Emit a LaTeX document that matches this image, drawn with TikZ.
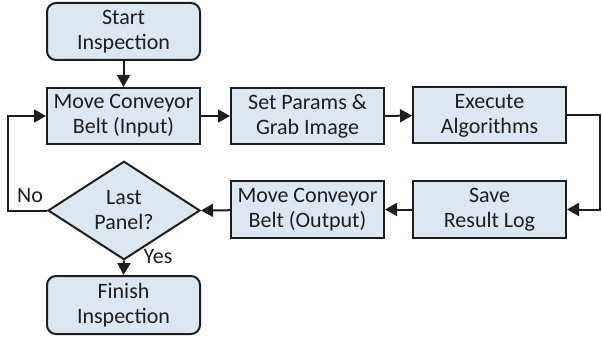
\documentclass[tikz,border=0pt]{standalone}
\usepackage{fontspec}
\setmainfont{Carlito}
\usetikzlibrary{shapes.geometric,arrows.meta}
\definecolor{boxfill}{RGB}{221,231,242}
\definecolor{ink}{RGB}{30,30,30}
\tikzset{
  procbox/.style={draw=ink,fill=boxfill,line width=2pt,minimum width=153pt,minimum height=56pt,
    align=center,inner sep=0pt,font=\fontsize{22}{25}\selectfont,text=ink},
  termbox/.style={procbox,rounded corners=9pt},
  decbox/.style={draw=ink,fill=boxfill,line width=2pt,diamond,minimum width=152pt,minimum height=75pt,
    align=center,inner sep=0pt,font=\fontsize{22}{25}\selectfont,text=ink},
  conn/.style={draw=ink,line width=2pt,-{Triangle[length=12pt,width=13pt]}},
  lbl/.style={font=\fontsize{22}{25}\selectfont,text=ink,inner sep=0pt}
}
\begin{document}
\begin{tikzpicture}[x=1pt,y=-1pt]
\useasboundingbox (0,0) rectangle (602,339);
\node[termbox,minimum height=57pt] (start) at (123.5,31.5) {Start\\Inspection};
\node[procbox] (in) at (123.5,116) {Move Conveyor\\Belt (Input)};
\node[procbox] (par) at (307.5,116) {Set Params \&\\Grab Image};
\node[procbox] (exe) at (489.5,115.5) {Execute\\Algorithms};
\node[procbox] (save) at (489.5,209.5) {Save\\Result Log};
\node[procbox] (out) at (307.5,209.5) {Move Conveyor\\Belt (Output)};
\node[decbox] (dec) at (124,210.5) {Last\\Panel?};
\node[termbox,minimum height=58pt] (fin) at (123.5,305) {Finish\\Inspection};
\coordinate (r) at (600,0);
\coordinate (l) at (8,0);
\draw[conn] (start) -- (in);
\draw[conn] (in) -- (par);
\draw[conn] (par) -- (exe);
\draw[conn] (exe.east) -- (exe.east -| r) -- (save.east -| r) -- (save.east);
\draw[conn] (save) -- (out);
\draw[conn] (out) -- (dec.east);
\draw[conn] (dec.west) -- (dec.west -| l) -- (in.west -| l) -- (in.west);
\draw[conn] (dec.south) -- (fin.north);
\node[lbl] (no) at (30,196) {No};
\node[lbl] (yes) at (158,257) {Yes};
\end{tikzpicture}
\end{document}
